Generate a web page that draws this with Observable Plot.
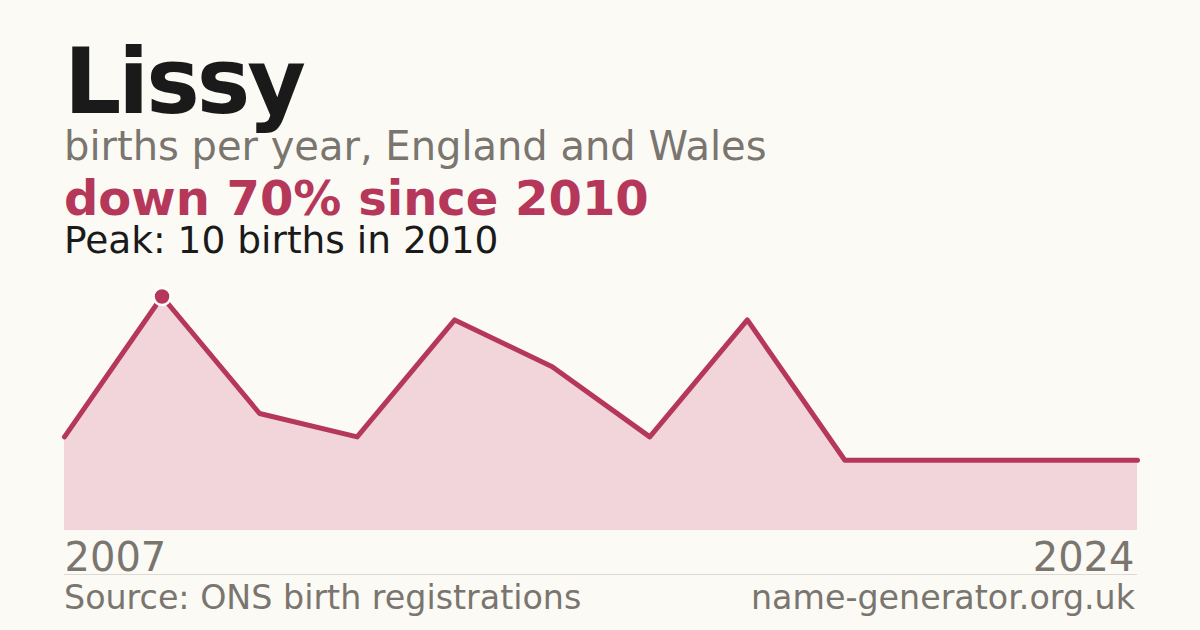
<!DOCTYPE html>
<html>
<head>
<meta charset="utf-8">
<script src="https://cdn.jsdelivr.net/npm/d3@7"></script>
<script src="https://cdn.jsdelivr.net/npm/@observablehq/plot@0.6"></script>
<style>
  html, body { margin: 0; padding: 0; }
  body { width: 1200px; height: 630px; background: #fbfaf5; position: relative; overflow: hidden; font-family: "DejaVu Sans", sans-serif; }
  .t { position: absolute; left: 64px; line-height: 0.8; white-space: nowrap; }
  #title { top: 45.9px; font-size: 90px; font-weight: bold; color: #1a1a1a; letter-spacing: -3px; }
  #sub { top: 129.5px; font-size: 40px; color: #7a756e; }
  #delta { top: 179.2px; font-size: 48px; font-weight: bold; color: #b5385a; }
  #peak { top: 225.3px; font-size: 37.5px; color: #1a1a1a; }
  #chart { position: absolute; left: 0; top: 270px; width: 1200px; }
  #sep { position: absolute; left: 64px; width: 1073px; top: 574px; height: 1px; background: #dcd9d2; }
  .foot { position: absolute; top: 584.5px; font-size: 33.3px; line-height: 0.8; color: #7a756e; white-space: nowrap; }
  #src { left: 64px; }
  #site { right: 65px; }
</style>
</head>
<body>
<div id="title" class="t">Lissy</div>
<div id="sub" class="t">births per year, England and Wales</div>
<div id="delta" class="t">down 70% since 2010</div>
<div id="peak" class="t">Peak: 10 births in 2010</div>
<div id="chart"></div>
<div id="sep"></div>
<div id="src" class="foot">Source: ONS birth registrations</div>
<div id="site" class="foot">name-generator.org.uk</div>
<script>
const years = [2007, 2010, 2011, 2012, 2013, 2014, 2016, 2017, 2019, 2020, 2022, 2024];
const births = [4, 10, 5, 4, 9, 7, 4, 9, 3, 3, 3, 3];
const tickYears = [2007, 2024];
const peakYear = 2010;
const peakValue = 10;

const data = years.map((y, i) => ({year: y, births: births[i]}));
const red = "#b5385a";

const chart = Plot.plot({
  width: 1200,
  height: 310,
  marginLeft: 64,
  marginRight: 63,
  marginTop: 26,
  marginBottom: 50,
  style: {background: "transparent", fontFamily: "DejaVu Sans, sans-serif", overflow: "visible"},
  x: {type: "point", domain: years, padding: 0, round: false, axis: null},
  y: {domain: [0, peakValue], axis: null},
  marks: [
    Plot.areaY(data, {x: "year", y: "births", fill: "#f2d5da", curve: "linear"}),
    Plot.lineY(data, {x: "year", y: "births", stroke: red, strokeWidth: 5, curve: "linear"}),
    Plot.dot([{year: peakYear, births: peakValue}], {x: "year", y: "births", r: 8.5, fill: red, stroke: "#ffffff", strokeWidth: 2.5}),
    Plot.text([tickYears[0]], {x: d => d, y: () => 0, text: d => String(d), textAnchor: "start", dy: 28, fontSize: 40, fill: "#7a756e"}),
    Plot.text([tickYears[1]], {x: d => d, y: () => 0, text: d => String(d), textAnchor: "end", dx: -3, dy: 28, fontSize: 40, fill: "#7a756e"})
  ]
});
document.getElementById("chart").appendChild(chart);
</script>
</body>
</html>
